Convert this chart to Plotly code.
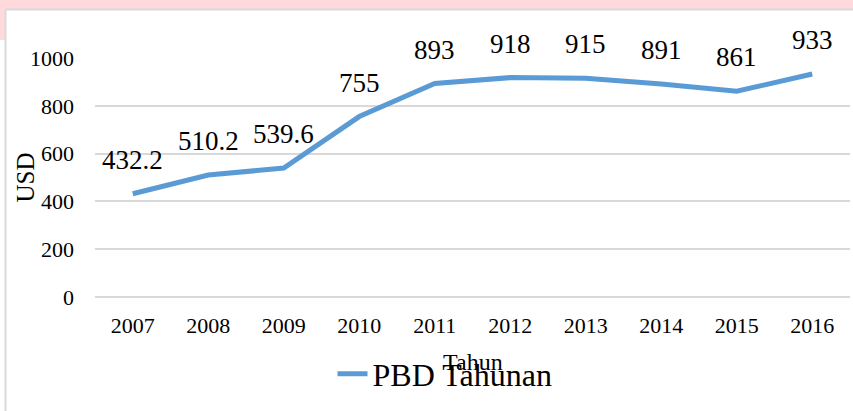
import plotly.graph_objects as go

years = ["2007", "2008", "2009", "2010", "2011", "2012", "2013", "2014", "2015", "2016"]
pbd = [432.2, 510.2, 539.6, 755, 893, 918, 915, 891, 861, 933]
labels = ["432.2", "510.2", "539.6", "755", "893", "918", "915", "891", "861", "933"]
series_name = "PBD Tahunan"
y_ticks = [0, 200, 400, 600, 800, 1000]

FONT = "Liberation Serif, Times New Roman, serif"
W, H = 853, 411
L, R, T, B = 95, 3, 58, 114
pw, ph = W - L - R, H - T - B

def px(X):
    return (X - L) / pw

def py(Y):
    return (H - B - Y) / ph

fig = go.Figure()
fig.add_trace(go.Scatter(
    x=years, y=pbd, mode="lines", name=series_name,
    line=dict(color="#5B9BD5", width=5), cliponaxis=False,
))

for i, (v, t) in enumerate(zip(pbd, labels)):
    fig.add_annotation(x=i, y=v, text=t, showarrow=False, yshift=34,
                       yanchor="middle",
                       font=dict(family=FONT, size=27, color="#000000"))

fig.add_annotation(xref="paper", yref="paper", x=0.5, y=py(362), text="Tahun",
                   showarrow=False, yanchor="middle", xanchor="center",
                   font=dict(family=FONT, size=24, color="#000000"))
fig.add_annotation(xref="paper", yref="paper", x=px(25), y=0.5, text="USD",
                   showarrow=False, textangle=-90, xanchor="center", yanchor="middle",
                   font=dict(family=FONT, size=25, color="#000000"))

shapes = [
    dict(type="rect", xref="paper", yref="paper", x0=px(0), x1=px(W), y0=py(9), y1=py(0),
         fillcolor="#FFD9DC", line=dict(width=0), layer="below"),
    dict(type="rect", xref="paper", yref="paper", x0=px(0), x1=px(5), y0=py(40), y1=py(9),
         fillcolor="#FFD9DC", line=dict(width=0), layer="below"),
    dict(type="line", xref="paper", yref="paper", x0=px(5), x1=px(W), y0=py(9.5), y1=py(9.5),
         line=dict(color="#D9D9D9", width=2)),
    dict(type="line", xref="paper", yref="paper", x0=px(5.5), x1=px(5.5), y0=py(9.5), y1=py(H),
         line=dict(color="#D9D9D9", width=2)),
]

fig.update_layout(
    width=W, height=H,
    margin=dict(l=L, r=R, t=T, b=B),
    paper_bgcolor="#FFFFFF", plot_bgcolor="#FFFFFF",
    font=dict(family=FONT, color="#000000"),
    shapes=shapes,
    showlegend=True,
    legend=dict(orientation="h", x=px(445), y=py(374), xanchor="center", yanchor="middle",
                font=dict(family=FONT, size=32, color="#000000"),
                bgcolor="rgba(0,0,0,0)"),
    xaxis=dict(type="category", range=[-0.5, 9.5], showgrid=False, showline=False,
               zeroline=False, ticks="", tickfont=dict(family=FONT, size=22),
               ticklabelstandoff=13),
    yaxis=dict(range=[0, 1000], tickvals=y_ticks, showgrid=True, gridcolor="#D9D9D9",
               gridwidth=1.5, zeroline=True, zerolinecolor="#D9D9D9", zerolinewidth=1.5,
               showline=False, ticks="", tickfont=dict(family=FONT, size=22),
               ticklabelstandoff=20),
)

fig.write_html("out.html", config={"displayModeBar": False},
               post_script="document.body.style.margin='0';")
